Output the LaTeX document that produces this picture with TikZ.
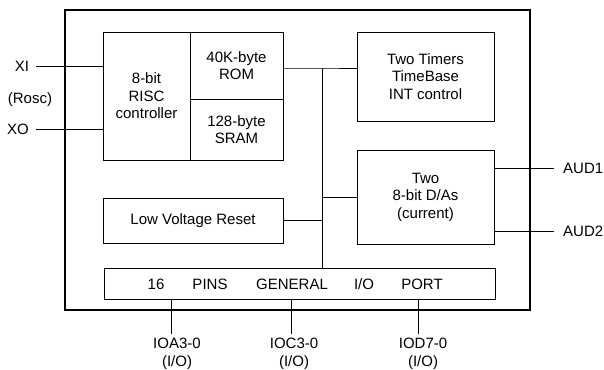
\documentclass[tikz,border=0pt]{standalone}
\usepackage{fontspec}
\setmainfont{Liberation Sans}
\usepackage{tikz}
\usetikzlibrary{positioning}

\begin{document}
\begin{tikzpicture}[x=1pt, y=-1pt, font=\fontsize{15}{17.5}\selectfont,
    blk/.style={draw, line width=0.9pt, inner sep=0pt, align=center},
    pinlbl/.style={inner sep=0pt, align=center},
    wire/.style={line width=0.9pt}]

        \useasboundingbox (0,0) rectangle (604,369);
        \draw[line width=1.5pt] (65,10) rectangle (530,310);

        % core
        \node[blk, minimum width=87, minimum height=128] (ctrl) at (146.5,96) {8-bit\\RISC\\controller};
        \node[blk, minimum width=93, minimum height=67] (rom) at (236.5,65.5) {40K-byte\\ROM};
        \node[blk, minimum width=93, minimum height=61] (sram) at (236.5,129.5) {128-byte\\SRAM};
        \node[blk, minimum width=137, minimum height=89] (tmr) at (425.5,76.5) {Two Timers\\TimeBase\\INT control};
        \node[blk, minimum width=137, minimum height=94] (dac) at (425.5,197) {Two\\8-bit D/As\\(current)};
        \node[blk, minimum width=180, minimum height=45] (lvr) at (193,220.5) {Low Voltage Reset};
        \node[blk, minimum width=391, minimum height=31] (io) at (299.5,283.5) {};
        \foreach \x/\w in {156/16, 210/PINS, 292/GENERAL, 364/{I/O}, 422/PORT}
          \node[pinlbl] (w\x) at (\x,284) {\w};

        % bus
        \coordinate (bus) at (322,68);
        \draw[wire] (rom.east |- bus) -- (bus) -- (bus -| tmr.west);
        \draw[wire] (bus) -- (bus |- io.north);
        \draw[wire] (lvr.east) -- (lvr.east -| bus);
        \draw[wire] (dac.west -| bus) -- (dac.west);

        % pins
        \node[pinlbl] (xi) at (22,66) {XI};
        \node[pinlbl] (rosc) at (30,100) {(Rosc)};
        \node[pinlbl] (xo) at (18,129) {XO};
        \draw[wire, shorten <=7pt] (xi.east) -- (xi.east -| ctrl.west);
        \draw[wire, shorten <=7pt] (xo.east) -- (xo.east -| ctrl.west);
        \node[pinlbl, anchor=west] (aud1) at (563,168) {AUD1};
        \node[pinlbl, anchor=west] (aud2) at (563,231) {AUD2};
        \draw[wire, shorten <=9pt] (aud1.west) -- (aud1.west -| dac.east);
        \draw[wire, shorten <=9pt] (aud2.west) -- (aud2.west -| dac.east);

        \node[pinlbl, anchor=north] (ioa) at (177,338) {IOA3-0\\(I/O)};
        \node[pinlbl, anchor=north] (ioc) at (294,338) {IOC3-0\\(I/O)};
        \node[pinlbl, anchor=north] (iod) at (423,338) {IOD7-0\\(I/O)};
        \draw[wire, shorten <=4pt] ([xshift=-6]ioa.north) -- ([xshift=-6]ioa.north |- io.south);
        \draw[wire, shorten <=4pt] ([xshift=-3]ioc.north) -- ([xshift=-3]ioc.north |- io.south);
        \draw[wire, shorten <=4pt] ([xshift=-5]iod.north) -- ([xshift=-5]iod.north |- io.south);
      \end{tikzpicture}
\end{document}
